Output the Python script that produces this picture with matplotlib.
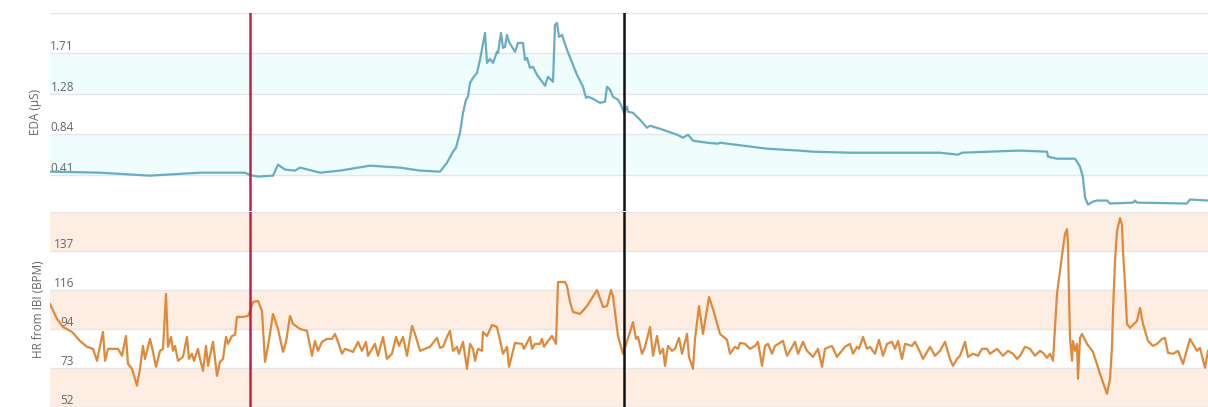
import matplotlib
matplotlib.use("Agg")
import matplotlib.pyplot as plt
from matplotlib.transforms import blended_transform_factory

# ---- Electrodermal activity (µS) ----
eda_t = [0, 50, 100, 150, 195, 200, 208, 223, 228, 235,
         245, 250, 270, 290, 320, 350, 370, 390, 397, 403,
         406, 410, 412, 413, 416, 418, 420, 423, 427, 430,
         435, 437, 440, 443, 447, 448, 451, 453, 455, 457,
         459, 465, 468, 473, 475, 477, 480, 483, 487, 493,
         495, 498, 503, 505, 507, 509, 512, 517, 523, 527,
         533, 536, 538, 543, 550, 555, 557, 560, 563, 568,
         571, 574, 577, 578, 583, 590, 597, 600, 610, 627,
         633, 638, 643, 657, 668, 670, 717, 750, 763, 800,
         883, 890, 908, 912, 967, 972, 997, 998, 1007, 1013,
         1025, 1030, 1033, 1035, 1038, 1043, 1047, 1057, 1060, 1083,
         1085, 1087, 1137, 1140, 1158]
eda_us = [0.442, 0.431, 0.399, 0.431, 0.431, 0.405, 0.389, 0.399, 0.517, 0.464,
          0.453, 0.485, 0.431, 0.453, 0.506, 0.485, 0.453, 0.442, 0.538, 0.656,
          0.699, 0.859, 0.998, 1.073, 1.212, 1.245, 1.394, 1.448, 1.501, 1.641,
          1.929, 1.608, 1.651, 1.608, 1.726, 1.715, 1.929, 1.769, 1.780, 1.908,
          1.833, 1.726, 1.822, 1.822, 1.641, 1.662, 1.555, 1.566, 1.480, 1.394,
          1.362, 1.459, 1.405, 2.015, 2.036, 1.887, 1.908, 1.748, 1.587, 1.480,
          1.352, 1.234, 1.245, 1.223, 1.180, 1.191, 1.352, 1.320, 1.245, 1.213,
          1.159, 1.073, 1.138, 1.084, 1.073, 0.999, 0.913, 0.934, 0.902, 0.838,
          0.806, 0.838, 0.774, 0.752, 0.742, 0.752, 0.688, 0.667, 0.656, 0.645,
          0.645, 0.645, 0.624, 0.645, 0.667, 0.667, 0.656, 0.603, 0.581, 0.581,
          0.581, 0.496, 0.378, 0.164, 0.089, 0.121, 0.132, 0.132, 0.100, 0.110,
          0.132, 0.110, 0.100, 0.143, 0.132]

# ---- Heart rate derived from inter-beat intervals (BPM) ----
hr_t = [0, 7, 13, 22, 30, 37, 43, 47, 51, 53,
        55, 58, 68, 72, 76, 78, 82, 87, 90, 93,
        95, 100, 103, 106, 110, 113, 116, 118, 121, 123,
        125, 128, 133, 137, 139, 142, 144, 148, 150, 153,
        156, 158, 161, 163, 165, 167, 170, 173, 176, 178,
        182, 185, 187, 193, 198, 200, 203, 208, 212, 215,
        218, 223, 228, 233, 236, 240, 243, 250, 257, 262,
        265, 268, 272, 277, 282, 285, 288, 292, 295, 303,
        308, 312, 316, 318, 322, 325, 328, 333, 337, 342,
        346, 349, 353, 357, 362, 365, 370, 380, 387, 390,
        393, 397, 400, 403, 407, 409, 413, 417, 420, 423,
        425, 428, 432, 433, 437, 442, 447, 453, 457, 459,
        465, 472, 474, 480, 482, 485, 490, 492, 494, 498,
        502, 504, 506, 508, 515, 517, 520, 523, 530, 537,
        547, 553, 557, 561, 563, 568, 573, 580, 583, 586,
        588, 592, 595, 600, 603, 607, 610, 613, 615, 618,
        622, 625, 629, 632, 637, 639, 643, 645, 649, 653,
        659, 663, 670, 677, 680, 685, 688, 690, 695, 700,
        705, 708, 712, 715, 718, 722, 725, 733, 737, 740,
        745, 748, 753, 757, 763, 768, 772, 775, 782, 787,
        795, 800, 803, 807, 809, 813, 817, 820, 825, 829,
        833, 837, 842, 845, 848, 852, 855, 862, 865, 870,
        873, 880, 885, 890, 895, 900, 903, 907, 910, 915,
        918, 923, 928, 932, 937, 940, 947, 953, 958, 963,
        967, 970, 975, 980, 985, 990, 993, 997, 1000, 1003,
        1005, 1007, 1010, 1013, 1015, 1017, 1018, 1019, 1020, 1022,
        1023, 1025, 1027, 1028, 1030, 1032, 1037, 1043, 1050, 1057,
        1060, 1062, 1063, 1065, 1067, 1070, 1072, 1073, 1075, 1077,
        1080, 1087, 1090, 1093, 1098, 1103, 1107, 1112, 1115, 1118,
        1123, 1128, 1133, 1140, 1147, 1150, 1155, 1158]
hr_bpm = [108.1, 100.0, 95.6, 92.9, 88.0, 84.8, 83.7, 77.2, 88.0, 92.9,
          77.2, 83.7, 83.7, 79.9, 90.7, 75.5, 72.8, 63.6, 72.8, 85.3,
          78.2, 89.1, 82.0, 73.9, 82.6, 83.7, 113.6, 84.8, 90.2, 82.6,
          85.3, 77.2, 79.3, 90.2, 78.2, 81.0, 77.2, 83.7, 78.2, 71.7,
          85.3, 74.4, 82.6, 87.5, 78.2, 69.0, 76.6, 78.2, 90.2, 86.4,
          90.7, 91.3, 101.1, 101.1, 101.6, 104.3, 109.2, 109.8, 104.3, 76.6,
          85.3, 102.7, 94.5, 82.0, 87.5, 101.6, 97.3, 94.5, 93.5, 79.9,
          88.0, 82.6, 87.5, 89.1, 89.1, 91.8, 87.5, 81.0, 83.7, 82.0,
          87.5, 82.6, 87.5, 79.9, 83.7, 86.4, 79.9, 90.2, 78.2, 81.0,
          90.2, 85.3, 90.2, 79.9, 96.2, 91.8, 82.6, 84.8, 89.7, 84.2,
          84.8, 90.2, 93.5, 82.6, 84.8, 81.0, 87.5, 72.8, 86.4, 83.7,
          77.2, 83.7, 82.6, 92.9, 90.7, 96.7, 95.6, 81.0, 84.8, 73.9,
          86.9, 86.4, 83.7, 90.2, 83.7, 86.4, 86.4, 89.1, 84.8, 88.0,
          90.7, 88.6, 86.4, 120.1, 120.1, 117.9, 109.2, 103.8, 102.7, 107.0,
          115.7, 106.5, 107.0, 115.7, 112.5, 90.7, 81.0, 92.9, 98.3, 89.1,
          90.2, 81.0, 84.8, 95.6, 79.9, 90.7, 81.0, 83.7, 74.4, 85.3,
          82.6, 83.7, 89.7, 81.0, 91.8, 79.3, 72.8, 89.1, 107.0, 91.8,
          111.9, 105.4, 91.8, 88.6, 81.0, 84.8, 83.7, 86.9, 86.4, 83.7,
          85.3, 87.5, 74.4, 85.3, 86.4, 81.0, 85.3, 88.0, 79.9, 82.6,
          87.5, 81.0, 87.5, 82.6, 79.3, 83.7, 73.9, 83.7, 85.3, 79.3,
          84.8, 86.4, 81.0, 84.8, 83.7, 90.2, 83.7, 84.8, 81.0, 88.6,
          79.9, 86.4, 87.5, 83.7, 88.0, 78.2, 86.4, 85.3, 87.5, 82.0,
          78.2, 84.8, 79.9, 82.6, 87.5, 78.2, 74.4, 78.2, 79.9, 87.5,
          79.3, 81.0, 79.9, 83.7, 83.7, 81.0, 83.7, 79.9, 82.6, 81.0,
          78.2, 79.9, 84.8, 83.7, 79.9, 82.6, 81.5, 78.8, 81.0, 77.2,
          95.1, 113.6, 126.1, 138.6, 146.2, 148.9, 140.7, 113.6, 89.7, 77.2,
          88.0, 82.6, 86.4, 67.4, 89.7, 91.8, 86.4, 82.0, 70.1, 59.2,
          67.4, 84.6, 104.3, 131.5, 147.8, 154.9, 151.1, 136.9, 119.0, 97.3,
          95.1, 98.9, 106.0, 97.3, 88.0, 85.3, 86.4, 89.1, 89.7, 81.5,
          81.0, 82.6, 75.5, 89.1, 82.6, 84.2, 73.4, 82.6]

# Tick positions and labels
eda_ticks = [0.41, 0.843, 1.277, 1.71, 2.143]
eda_tick_labels = ["0.41", "0.84", "1.28", "1.71", ""]
hr_ticks = [52, 73.25, 94.5, 115.75, 137, 158.25]
hr_tick_labels = ["52", "73", "94", "116", "137", ""]

# Event markers (seconds)
event_start = 199.5
event_end = 574.3

FIG_W, FIG_H = 1208, 407
DPI = 100
plt.rcParams["font.family"] = ["Open Sans", "DejaVu Sans"]

fig = plt.figure(figsize=(FIG_W / DPI, FIG_H / DPI), dpi=DPI)

left_px, right_px = 50, 1208


def frac_rect(top_px, bottom_px):
    return [left_px / FIG_W, 1 - bottom_px / FIG_H,
            (right_px - left_px) / FIG_W, (bottom_px - top_px) / FIG_H]


ax_eda = fig.add_axes(frac_rect(13, 211))
ax_hr = fig.add_axes(frac_rect(212, 407))

x_max = 1158
label_color = "#666666"
grid_color = "#e6e6e6"


def style_panel(ax, ticks, labels, ylim, band_color, band_pairs, ylabel, ylabel_x):
    ax.set_xlim(0, x_max)
    ax.set_ylim(*ylim)
    for lo, hi in band_pairs:
        ax.axhspan(ticks[lo], ticks[hi], color=band_color, lw=0, zorder=0)
    for t in ticks:
        ax.axhline(t, color=grid_color, lw=1.0, zorder=1)
    for s in ax.spines.values():
        s.set_visible(False)
    ax.set_xticks([])
    ax.set_yticks([])
    ax.set_facecolor("none")
    trans = blended_transform_factory(ax.transAxes, ax.transData)
    for t, lab in zip(ticks, labels):
        if lab:
            ax.text(24 / (right_px - left_px), t, lab, transform=trans,
                    ha="right", va="bottom", fontsize=8.5, color=label_color,
                    zorder=2)
    pos = ax.get_position()
    fig.text(ylabel_x / FIG_W, 0.5 * (pos.y0 + pos.y1), ylabel, rotation=90,
             ha="center", va="center", fontsize=8.5, color=label_color)


style_panel(ax_eda, eda_ticks, eda_tick_labels, (0.02, 2.143), "#effdfd",
            [(0, 1), (2, 3)], "EDA (µS)", 35)
style_panel(ax_hr, hr_ticks, hr_tick_labels, (52, 158.25), "#fdede3",
            [(0, 1), (2, 3), (4, 5)], "HR from IBI (BPM)", 38)

ax_eda.plot(eda_t, eda_us, color="#68adc2", lw=1.6, zorder=3,
            solid_joinstyle="round")
ax_hr.plot(hr_t, hr_bpm, color="#e0893a", lw=1.6, zorder=3,
           solid_joinstyle="round")

for ax in (ax_eda, ax_hr):
    ax.axvline(event_start, color="#c2224a", lw=1.8, zorder=4)
    ax.axvline(event_end, color="#111111", lw=1.8, zorder=4)

fig.savefig("out.png", dpi=DPI)
